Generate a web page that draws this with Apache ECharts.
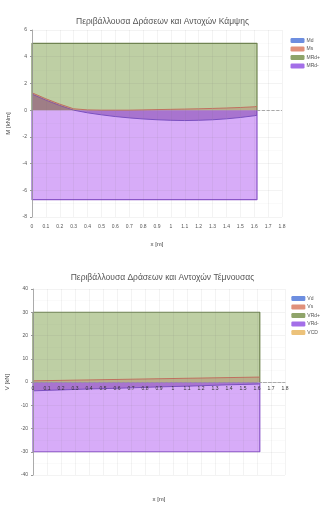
<!DOCTYPE html>
<html lang="el">
<head>
<meta charset="UTF-8">
<title>Περιβάλλουσες</title>
<style>
  html, body { margin: 0; padding: 0; background: #fff; }
  .box { width: 325px; height: 253px; }
</style>
</head>
<body>
<div id="chartM" class="box"></div>
<div id="chartV" class="box"></div>
<script src="https://cdn.jsdelivr.net/npm/echarts@6/dist/echarts.min.js"></script>
<script>
// positions along the beam [m]
var xPos = [0, 0.1, 0.2, 0.3, 0.4, 0.5, 0.6, 0.7, 0.8, 0.9, 1.0, 1.1, 1.2, 1.3, 1.4, 1.5, 1.6, 1.62];
var xMax = 1.8;

// bending [kNm]
var mdVals  = [1.2, 0.75, 0.35, 0.0, -0.2, -0.35, -0.48, -0.58, -0.66, -0.72, -0.76, -0.78, -0.76, -0.72, -0.65, -0.55, -0.42, -0.38];
var msVals  = [1.3, 0.85, 0.45, 0.1, 0.02, 0.0, 0.0, 0.0, 0.02, 0.04, 0.06, 0.08, 0.1, 0.13, 0.16, 0.2, 0.25, 0.28];
var mrdPlus = [5, 5, 5, 5, 5, 5, 5, 5, 5, 5, 5, 5, 5, 5, 5, 5, 5, 5];
var mrdMinus = [-6.7, -6.7, -6.7, -6.7, -6.7, -6.7, -6.7, -6.7, -6.7, -6.7, -6.7, -6.7, -6.7, -6.7, -6.7, -6.7, -6.7, -6.7];

// shear [kN]
var vdVals  = [-3.8, -3.6, -3.4, -3.2, -3.0, -2.85, -2.7, -2.5, -2.3, -2.1, -1.95, -1.8, -1.6, -1.4, -1.2, -1.05, -0.9, -0.85];
var vsVals  = [0.5, 0.6, 0.7, 0.8, 0.9, 1.0, 1.1, 1.2, 1.3, 1.4, 1.5, 1.6, 1.7, 1.8, 1.9, 2.0, 2.1, 2.1];
var vrdPlus = [30, 30, 30, 30, 30, 30, 30, 30, 30, 30, 30, 30, 30, 30, 30, 30, 30, 30];
var vrdMinus = [-30, -30, -30, -30, -30, -30, -30, -30, -30, -30, -30, -30, -30, -30, -30, -30, -30, -30];
var vcdVals = [];

var colBlue = '#6d8ee0', colRed = '#e0907a', colGreen = '#8fa46a', colPurple = '#a36ee8', colYellow = '#ecc27a';
var gridCol = 'rgba(110,110,110,0.14)', minorCol = 'rgba(110,110,110,0.07)';

function pairs(vals) {
    return vals.map(function (v, i) { return [xPos[i], v]; });
}
// closed outline (down to 0 at both ends) so the edges show like the original
function closed(vals) {
    var d = pairs(vals);
    d.unshift([xPos[0], 0]);
    d.push([xPos[xPos.length - 1], 0]);
    return d;
}

function lineSeries(name, vals, color, fill, z, isClosed) {
    return {
        name: name, type: 'line', z: z,
        data: isClosed ? closed(vals) : pairs(vals),
        symbol: 'none', animation: false,
        itemStyle: {color: color},
        lineStyle: {color: color, width: isClosed ? 1.2 : 1},
        areaStyle: {color: fill, origin: 0, opacity: 1}
    };
}

function baseOption(o) {
    return {
        animation: false,
        textStyle: {fontFamily: 'Liberation Sans, DejaVu Sans, sans-serif'},
        title: {
            text: o.title, left: 'center', top: o.titleTop,
            textStyle: {fontSize: 8.5, fontWeight: 'normal', color: '#555'}
        },
        legend: {
            data: o.legend, orient: 'vertical', right: 0, top: o.legendTop,
            itemWidth: 14, itemHeight: 5, itemGap: 3.5, icon: 'roundRect',
            textStyle: {fontSize: 5, color: '#555', padding: [0, 0, 0, -3]}
        },
        grid: Object.assign({outerBoundsMode: 'none'}, o.grid),
        xAxis: {
            type: 'value', min: 0, max: xMax, interval: 0.1,
            position: 'bottom', offset: o.xOffset, z: 10,
            name: 'x [m]', nameLocation: 'middle', nameGap: o.xNameGap,
            nameTextStyle: {fontSize: 6, color: '#444'},
            axisLine: {show: o.xLine, onZero: false,
                lineStyle: {color: '#999', type: 'dashed', width: 0.8}},
            axisTick: {show: false},
            axisLabel: {fontSize: 5, color: o.xLabelColor, margin: o.xLabelMargin,
                formatter: function (v) { return String(+v.toFixed(1)); }},
            splitLine: {lineStyle: {color: gridCol, width: 0.6}}
        },
        yAxis: {
            type: 'value', min: o.yMin, max: o.yMax, interval: o.yStep, z: 10,
            name: o.yName, nameLocation: 'middle', nameGap: 19,
            nameTextStyle: {fontSize: 6, color: '#444'},
            axisLine: {show: true, lineStyle: {color: '#999', width: 0.8}},
            axisTick: {show: true, length: 2, lineStyle: {color: '#999'}},
            axisLabel: {fontSize: 5, color: '#555', margin: 5},
            splitLine: {lineStyle: {color: gridCol, width: 0.6}},
            minorTick: {show: false, splitNumber: 2},
            minorSplitLine: {show: true, lineStyle: {color: minorCol, width: 0.5}}
        },
        series: o.series
    };
}

function zeroLine() {
    return {
        silent: true, symbol: 'none', label: {show: false},
        lineStyle: {color: '#999', type: 'dashed', width: 0.8},
        data: [[{coord: [xPos[xPos.length - 1], 0]}, {coord: [xMax, 0]}]]
    };
}

// ---- bending chart
var chartM = echarts.init(document.getElementById('chartM'));
var sM = [
    lineSeries('MRd+', mrdPlus, '#6f8450', 'rgba(150,178,108,0.62)', 1, true),
    lineSeries('MRd-', mrdMinus, '#8a55c8', 'rgba(200,140,245,0.72)', 1, true),
    lineSeries('Md', mdVals, '#7a4fc0', 'rgba(105,40,150,0.42)', 3, false),
    lineSeries('Ms', msVals, '#c0705f', 'rgba(170,100,80,0.3)', 4, false)
];
sM[0].itemStyle.color = colGreen;
sM[1].itemStyle.color = colPurple;
sM[2].itemStyle.color = colBlue;
sM[3].itemStyle.color = colRed;
sM[3].markLine = zeroLine();
chartM.setOption(baseOption({
    title: 'Περιβάλλουσα Δράσεων και Αντοχών Κάμψης', titleTop: 12,
    legend: ['Md', 'Ms', 'MRd+', 'MRd-'], legendTop: 33,
    grid: {left: 32, right: 43, top: 30, height: 187},
    xOffset: 0, xLine: false, xNameGap: 24, xLabelMargin: 7, xLabelColor: '#555',
    yMin: -8, yMax: 6, yStep: 2, yName: 'M [kNm]',
    series: sM
}));

// ---- shear chart (x axis sits on the zero line, drawn over the areas)
var chartV = echarts.init(document.getElementById('chartV'));
var sV = [
    lineSeries('VRd+', vrdPlus, '#6f8450', 'rgba(150,178,108,0.62)', 1, true),
    lineSeries('VRd-', vrdMinus, '#8a55c8', 'rgba(200,140,245,0.72)', 1, true),
    lineSeries('Vd', vdVals, '#7a4fc0', 'rgba(105,40,150,0.42)', 3, false),
    lineSeries('Vs', vsVals, '#c0705f', 'rgba(170,100,80,0.3)', 4, false),
    lineSeries('VCD', vcdVals, colYellow, 'rgba(236,194,122,0.4)', 5, false)
];
sV[0].itemStyle.color = colGreen;
sV[1].itemStyle.color = colPurple;
sV[2].itemStyle.color = colBlue;
sV[3].itemStyle.color = colRed;
chartV.setOption(baseOption({
    title: 'Περιβάλλουσα Δράσεων και Αντοχών Τέμνουσας', titleTop: 15,
    legend: ['Vd', 'Vs', 'VRd+', 'VRd-', 'VCD'], legendTop: 38,
    grid: {left: 33, right: 40, top: 36, height: 186},
    xOffset: -93, xLine: true, xNameGap: 114, xLabelMargin: 4, xLabelColor: '#333',
    yMin: -40, yMax: 40, yStep: 10, yName: 'V [kN]',
    series: sV
}));
</script>
</body>
</html>
